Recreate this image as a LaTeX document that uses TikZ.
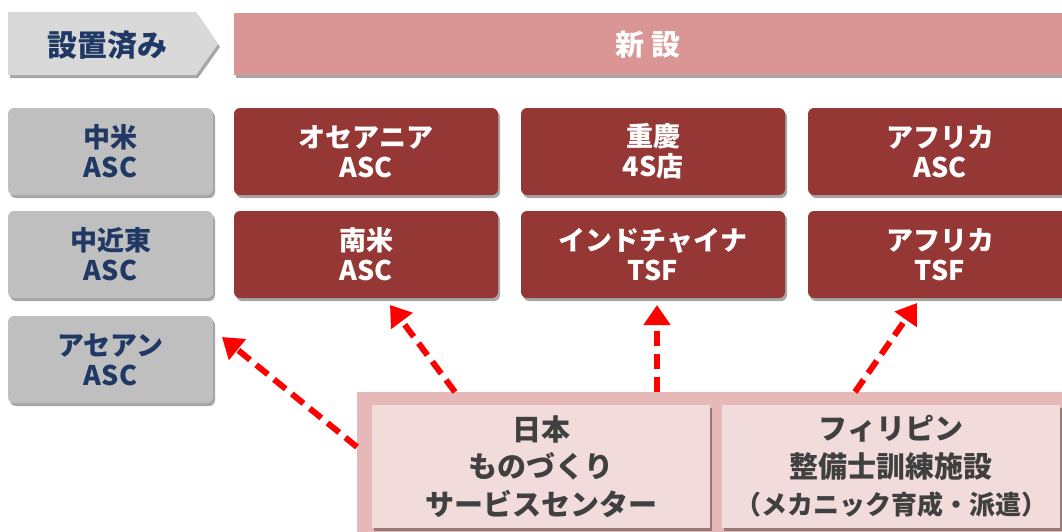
\documentclass[tikz,border=0pt]{standalone}
\usepackage{fontspec}
\setmainfont{Noto Sans CJK JP}
\usetikzlibrary{shadows,arrows.meta,calc}
\definecolor{navy}{HTML}{1F3864}
\definecolor{lgrey}{HTML}{D9D9D9}
\definecolor{mgrey}{HTML}{BFBFBF}
\definecolor{pinkbar}{HTML}{D99694}
\definecolor{darkred}{HTML}{953735}
\definecolor{pinkbg}{HTML}{E6B9B8}
\definecolor{pinkin}{HTML}{F2DCDB}
\definecolor{txtgrey}{HTML}{404040}
\tikzset{
  shad/.style={drop shadow={shadow xshift=2pt,shadow yshift=-3pt,opacity=0.35,fill=black}},
  greybox/.style={shad,fill=mgrey,rounded corners=6pt,minimum width=205pt,minimum height=87pt,
    inner sep=0pt,align=center,text=navy,font=\fontsize{27}{30}\selectfont\bfseries},
  redbox/.style={shad,fill=darkred,rounded corners=6pt,minimum width=264pt,minimum height=87pt,
    inner sep=0pt,align=center,text=white,font=\fontsize{27}{30}\selectfont\bfseries},
  inbox/.style={shad,fill=pinkin,minimum width=338pt,minimum height=123pt,inner sep=0pt,
    align=center,text=txtgrey,font=\fontsize{29}{37.5}\selectfont\bfseries},
  redarrow/.style={draw=red,line width=6pt,dash pattern=on 15pt off 8pt,
    -{Triangle[length=20pt,width=26pt]}}
}
\begin{document}
\begin{tikzpicture}[x=1pt,y=-1pt]
\useasboundingbox (0,0) rectangle (1062,531);
% header
\fill[lgrey,shad] (8,12) -- (196,12) -- (218,44) -- (196,75) -- (8,75) -- cycle;
\node[text=navy,font=\fontsize{30}{34}\selectfont\bfseries] (done) at (107,45) {設置済み};
\node[shad,fill=pinkbar,minimum width=828pt,minimum height=62pt,inner sep=0pt,
  anchor=north west,text=white,font=\fontsize{29}{34}\selectfont\bfseries] (newbar) at (234,13) {新 設};
% grey boxes
\node[greybox] (g1) at (110.5,151.5) {中米\\ASC};
\node[greybox] (g2) at (110.5,254.5) {中近東\\ASC};
\node[greybox] (g3) at (110.5,359.5) {アセアン\\ASC};
% red boxes
\node[redbox] (r11) at (366,151.5) {オセアニア\\ASC};
\node[redbox] (r12) at (653,151.5) {重慶\\4S店};
\node[redbox] (r13) at (940,151.5) {アフリカ\\ASC};
\node[redbox] (r21) at (366,254.5) {南米\\ASC};
\node[redbox] (r22) at (653,254.5) {インドチャイナ\\TSF};
\node[redbox] (r23) at (940,254.5) {アフリカ\\TSF};
% bottom
\node[fill=pinkbg,minimum width=720pt,minimum height=150pt,inner sep=0pt,anchor=north west] (base) at (357,392) {};
\node[inbox] (jp) at (541,466.5) {日本\\ものづくり\\サービスセンター};
\node[inbox] (ph) at (891,466.5) {フィリピン\\整備士訓練施設\\{\fontsize{26}{37.5}\selectfont（メカニック育成・派遣）}};
% arrows
\coordinate (s1) at (357,447);
\coordinate (e1) at (222,337);
\coordinate (s2) at (455,392);
\coordinate (e2) at (390,305);
\coordinate (s3) at (657,392);
\coordinate (e3) at (657,305);
\coordinate (s4) at (855,392);
\coordinate (e4) at (917,303);
\draw[redarrow] (s1) -- (e1);
\draw[redarrow] (s2) -- (e2);
\draw[redarrow] (s3) -- (e3);
\draw[redarrow] (s4) -- (e4);
\end{tikzpicture}
\end{document}
